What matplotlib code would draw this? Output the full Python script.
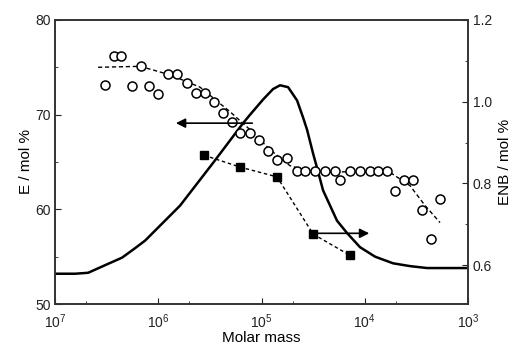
import numpy as np
import matplotlib
matplotlib.use('Agg')
import matplotlib.pyplot as plt
from matplotlib.ticker import LogLocator, MultipleLocator

plt.rcParams['font.family'] = ['Liberation Sans', 'DejaVu Sans']

# E content (open circles), left axis
e_logm = [6.516, 6.429, 6.361, 6.254, 6.167, 6.09, 6.0, 5.906, 5.818, 5.72,
          5.634, 5.547, 5.46, 5.373, 5.286, 5.208, 5.111, 5.024, 4.937, 4.85,
          4.753, 4.656, 4.579, 4.482, 4.385, 4.288, 4.24, 4.143, 4.046, 3.949,
          3.872, 3.784, 3.707, 3.62, 3.533, 3.446, 3.36, 3.271]
e_val = [73.1, 76.2, 76.2, 73.0, 75.1, 73.0, 72.2, 74.3, 74.3, 73.3,
         72.3, 72.3, 71.3, 70.2, 69.2, 68.1, 68.1, 67.3, 66.2, 65.2,
         65.4, 64.0, 64.0, 64.0, 64.0, 64.0, 63.1, 64.0, 64.0, 64.0,
         64.0, 64.0, 61.9, 63.1, 63.1, 59.9, 56.9, 61.1]

# dashed trend through E points
fit_logm = [6.584, 6.177, 5.886, 5.596, 5.305, 5.111, 4.918, 4.724, 4.53,
            3.755, 3.562, 3.416, 3.271]
fit_val = [75.0, 75.1, 74.2, 72.9, 70.3, 68.4, 66.3, 64.6, 64.0,
           63.9, 62.5, 60.4, 58.6]

# ENB content (filled squares), right axis
enb_logm = [5.557, 5.208, 4.85, 4.50, 4.143]
enb_val = [0.869, 0.84, 0.816, 0.676, 0.624]

# molar mass distribution (solid curve), drawn on left-axis scale
mwd_logm = [7.0, 6.806, 6.68, 6.516, 6.351, 6.225, 6.128, 5.789, 5.47,
            5.179, 5.111, 4.985, 4.889, 4.821, 4.743, 4.656, 4.598, 4.559,
            4.501, 4.463, 4.404, 4.269, 4.172, 4.046, 3.9, 3.726, 3.56,
            3.397, 3.01]
mwd_val = [53.2, 53.2, 53.3, 54.1, 54.9, 55.9, 56.7, 60.4, 64.9,
           69.1, 70.0, 71.6, 72.7, 73.1, 72.9, 71.5, 69.7, 68.4,
           65.9, 64.4, 62.0, 58.8, 57.5, 56.0, 55.0, 54.3, 54.0,
           53.8, 53.8]

fig = plt.figure(figsize=(5.2, 3.56), dpi=100)
ax = fig.add_axes([0.106, 0.146, 0.794, 0.798])
ax2 = ax.twinx()

ax.plot(10 ** np.array(mwd_logm), mwd_val, color='black', lw=1.8)
ax.plot(10 ** np.array(fit_logm), fit_val, color='black', lw=1, ls=(0, (3, 2)))
ax.plot(10 ** np.array(e_logm), e_val, 'o', mfc='white', mec='black',
        ms=6.5, mew=1.1)
ax2.plot(10 ** np.array(enb_logm), enb_val, 's', color='black', ms=5.5,
         ls=(0, (2.5, 2)), lw=1)

# arrows pointing to the relevant axis
ax.annotate('', xy=(10 ** 5.857, 69.1), xytext=(10 ** 5.063, 69.1),
            arrowprops=dict(arrowstyle='-|>', color='black', lw=1.2,
                            mutation_scale=14))
ax2.annotate('', xy=(10 ** 3.93, 0.678), xytext=(10 ** 4.511, 0.678),
             arrowprops=dict(arrowstyle='-|>', color='black', lw=1.2,
                             mutation_scale=14))

ax.set_xscale('log')
ax.set_xlim(1e7, 1e3)
ax.set_ylim(50, 80)
ax2.set_ylim(0.505, 1.2)
ax.xaxis.set_major_locator(LogLocator(base=10, numticks=10))
ax.xaxis.set_minor_locator(LogLocator(base=10, subs=[5], numticks=10))
ax.yaxis.set_major_locator(MultipleLocator(10))
ax.yaxis.set_minor_locator(MultipleLocator(5))
ax2.yaxis.set_minor_locator(MultipleLocator(0.1))
ax2.set_yticks([0.6, 0.8, 1.0, 1.2])
ax2.set_yticklabels(['0.6', '0.8', '1.0', '1.2'])

for a in (ax, ax2):
    a.tick_params(which='both', direction='in', labelsize=10, colors='#222222')
    a.tick_params(which='major', length=4)
    a.tick_params(which='minor', length=2.5)
    for s in a.spines.values():
        s.set_linewidth(1.2)
        s.set_color('#333333')
ax.tick_params(axis='x', pad=6)
ax.tick_params(axis='y', pad=3)

ax.set_xlabel('Molar mass', fontsize=11, labelpad=0)
ax.set_ylabel('E / mol %', fontsize=11, labelpad=2)
ax2.set_ylabel('ENB / mol %', fontsize=11, labelpad=4)

fig.savefig('out.png', dpi=100)
